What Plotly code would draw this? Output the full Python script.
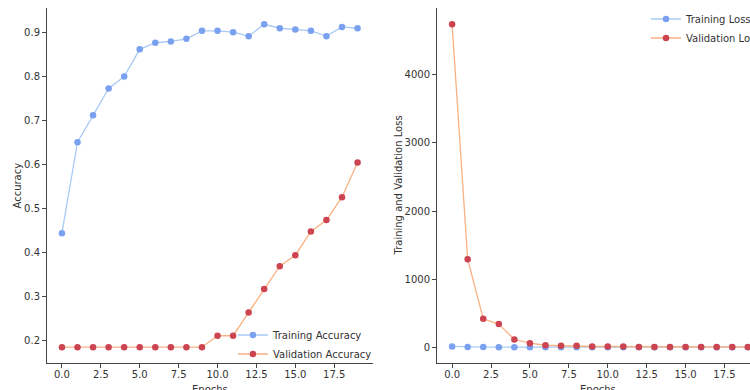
import plotly.graph_objects as go

epochs = list(range(20))
train_acc = [0.444, 0.651, 0.712, 0.773, 0.800, 0.862, 0.877, 0.880, 0.886, 0.904,
             0.904, 0.901, 0.892, 0.919, 0.910, 0.907, 0.904, 0.892, 0.913, 0.910]
val_acc = [0.185, 0.185, 0.185, 0.185, 0.185, 0.185, 0.185, 0.185, 0.185, 0.185,
           0.211, 0.211, 0.264, 0.317, 0.369, 0.394, 0.448, 0.474, 0.526, 0.605]
train_loss = [12.0, 1.8, 1.4, 1.1, 0.9, 0.8, 0.7, 0.6, 0.6, 0.5,
              0.5, 0.5, 0.5, 0.4, 0.4, 0.4, 0.4, 0.4, 0.4, 0.4]
val_loss = [4745, 1292, 418, 339, 113, 59, 29, 20, 20, 10,
            10, 10, 3, 3, 3, 3, 3, 3, 3, 3]

W, H = 750, 390
def px(x):
    return x / W
def py(y):
    return 1 - y / H

BLUE_M = "#7aa0f0"
BLUE_L = "#a9cbf6"
RED_M = "#cc4450"
RED_L = "#f8b183"
AX = "#444444"
TXT = "#333333"
FONT = "DejaVu Sans"

fig = go.Figure()
fig.add_trace(go.Scatter(x=epochs, y=train_acc, mode="lines+markers", name="Training Accuracy",
                         line=dict(color=BLUE_L, width=1.3), marker=dict(color=BLUE_M, size=6.5),
                         xaxis="x", yaxis="y", legend="legend"))
fig.add_trace(go.Scatter(x=epochs, y=val_acc, mode="lines+markers", name="Validation Accuracy",
                         line=dict(color=RED_L, width=1.3), marker=dict(color=RED_M, size=6.5),
                         xaxis="x", yaxis="y", legend="legend"))
fig.add_trace(go.Scatter(x=epochs, y=train_loss, mode="lines+markers", name="Training Loss",
                         line=dict(color=BLUE_L, width=1.3), marker=dict(color=BLUE_M, size=6.5),
                         xaxis="x2", yaxis="y2", legend="legend2", cliponaxis=False))
fig.add_trace(go.Scatter(x=epochs, y=val_loss, mode="lines+markers", name="Validation Loss",
                         line=dict(color=RED_L, width=1.3), marker=dict(color=RED_M, size=6.5),
                         xaxis="x2", yaxis="y2", legend="legend2", cliponaxis=False))

axis_common = dict(showline=True, linecolor=AX, linewidth=1, ticks="outside", ticklen=4,
                   tickcolor=AX, tickwidth=1, showgrid=False, zeroline=False, automargin=False,
                   tickfont=dict(family=FONT, size=10, color=TXT))

title_font = dict(family=FONT, size=10, color=TXT)

fig.update_layout(
    width=W, height=H,
    margin=dict(l=0, r=0, t=0, b=0, pad=0, autoexpand=False),
    paper_bgcolor="white", plot_bgcolor="white",
    font=dict(family=FONT, size=10, color=TXT),
    xaxis=dict(domain=[px(47), px(372.5)], range=[-0.96, 19.96], anchor="y",
               tick0=0, dtick=2.5, tickformat=".1f", ticklabelstandoff=-2, **axis_common),
    yaxis=dict(domain=[py(363), py(8)], range=[0.149, 0.956], anchor="x",
               dtick=0.1, tickformat=".1f", **axis_common),
    xaxis2=dict(domain=[px(437), 1.0], range=[-0.97, 19.14], anchor="y2",
                tick0=0, dtick=2.5, tickformat=".1f", ticklabelstandoff=-2, **axis_common),
    yaxis2=dict(domain=[py(363), py(8)], range=[-232, 4982], anchor="x2",
                dtick=1000, **axis_common),
    legend=dict(x=px(233), y=py(320.5), xanchor="left", yanchor="top",
                bgcolor="rgba(0,0,0,0)", font=dict(family=FONT, size=10, color=TXT),
                tracegroupgap=0),
    legend2=dict(x=px(646), y=py(4.5), xanchor="left", yanchor="top",
                 bgcolor="rgba(0,0,0,0)", font=dict(family=FONT, size=10, color=TXT),
                 tracegroupgap=0),
    annotations=[
        dict(text="Accuracy", x=px(17), y=py(185.5), xref="paper", yref="paper",
             xanchor="center", yanchor="middle",
             showarrow=False, textangle=-90, font=title_font),
        dict(text="Epochs", x=px(210), y=py(389), xref="paper", yref="paper",
             xanchor="center", yanchor="middle", showarrow=False, font=title_font),
        dict(text="Training and Validation Loss", x=px(398), y=py(185.5), xref="paper", yref="paper",
             xanchor="center", yanchor="middle",
             showarrow=False, textangle=-90, font=title_font),
        dict(text="Epochs", x=px(598), y=py(389), xref="paper", yref="paper",
             xanchor="center", yanchor="middle", showarrow=False, font=title_font),
    ],
)

post = (
    "document.documentElement.style.overflow='hidden';"
    "document.body.style.margin='0';"
    "document.body.style.overflow='hidden';"
    "var d=document.getElementById('{plot_id}');"
    "d.style.overflow='hidden';d.style.width='750px';d.style.height='390px';"
)

fig.write_html("out.html", config={"displayModeBar": False}, post_script=post)
